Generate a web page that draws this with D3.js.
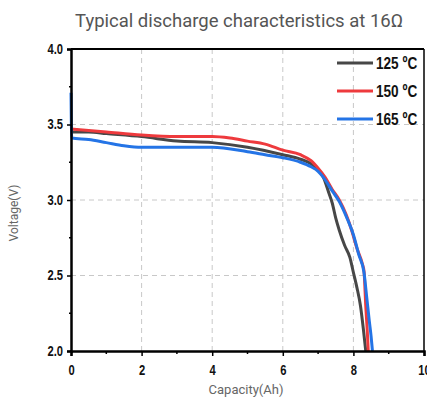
<!DOCTYPE html>
<html>
<head>
<meta charset="utf-8">
<script src="https://cdn.jsdelivr.net/npm/d3@7"></script>
<style>
  body { margin: 0; background: #fff; }
  .tick-lbl { font-family: "Liberation Sans", Arial, sans-serif; font-weight: bold; font-size: 14px; fill: #111; }
</style>
</head>
<body>
<svg id="chart" width="427" height="399"></svg>
<script>
// capacity (Ah) / voltage (V)
var series125 = [[0,3.45],[0.5,3.45],[1,3.44],[2,3.42],[3,3.39],[4,3.38],[5,3.35],[6,3.30],[6.5,3.27],[6.8,3.24],[7.0,3.20],[7.15,3.15],[7.3,3.05],[7.4,2.98],[7.5,2.88],[7.6,2.80],[7.75,2.70],[7.9,2.62],[8.0,2.52],[8.1,2.42],[8.2,2.30],[8.28,2.15],[8.35,2.0]];
var series150 = [[0,3.47],[0.5,3.46],[1,3.45],[2,3.43],[3,3.42],[4,3.42],[4.5,3.41],[5,3.39],[5.5,3.37],[6,3.33],[6.5,3.30],[6.8,3.26],[7.0,3.21],[7.2,3.15],[7.4,3.07],[7.6,3.0],[7.8,2.9],[7.95,2.80],[8.1,2.68],[8.25,2.58],[8.3,2.53],[8.35,2.3],[8.4,2.1],[8.42,2.0]];
var series165 = [[0,3.71],[0.02,3.41],[0.5,3.40],[1,3.38],[1.5,3.36],[2,3.35],[3,3.35],[4,3.35],[5,3.32],[5.5,3.30],[6,3.28],[6.5,3.25],[6.8,3.22],[7.0,3.19],[7.15,3.15],[7.4,3.06],[7.6,2.99],[7.8,2.89],[8.0,2.77],[8.15,2.64],[8.3,2.52],[8.38,2.35],[8.45,2.2],[8.5,2.1],[8.54,2.0]];

var legendNames = ["125 \u00BAC", "150 \u00BAC", "165 \u00BAC"];
var colors = ["#474747", "#ee3a3d", "#2474e6"];
var xTicks = [0, 2, 4, 6, 8, 10];
var yTicks = [2.0, 2.5, 3.0, 3.5, 4.0];

var svg = d3.select('#chart');
var pLeft = 71, pRight = 424, pTop = 49, pBottom = 351;
var narrow = 0.8; // squeeze for the condensed bold labels

var x = d3.scaleLinear().domain([0, 10]).range([pLeft, pRight]);
var y = d3.scaleLinear().domain([2, 4]).range([pBottom, pTop]);

// grid
svg.append('g').selectAll('line')
  .data([2, 4, 6, 8]).enter().append('line')
  .attr('x1', d => x(d)).attr('x2', d => x(d))
  .attr('y1', pTop).attr('y2', pBottom)
  .attr('stroke', '#c8c8c8').attr('stroke-dasharray', '5,4');
svg.append('g').selectAll('line')
  .data([2.5, 3.0, 3.5]).enter().append('line')
  .attr('x1', pLeft).attr('x2', pRight)
  .attr('y1', d => y(d)).attr('y2', d => y(d))
  .attr('stroke', '#c8c8c8').attr('stroke-dasharray', '5,4');

// curves
var line = d3.line().x(d => x(d[0])).y(d => y(d[1])).curve(d3.curveMonotoneX);
[series125, series150, series165].forEach(function(s, i) {
  svg.append('path').datum(s)
    .attr('d', line)
    .attr('fill', 'none')
    .attr('stroke', colors[i])
    .attr('stroke-width', 3)
    .attr('stroke-linejoin', 'round');
});

// frame
svg.append('line').attr('x1', pLeft).attr('x2', pRight).attr('y1', pTop).attr('y2', pTop)
  .attr('stroke', '#000').attr('stroke-width', 2);
svg.append('line').attr('x1', pRight).attr('x2', pRight).attr('y1', pTop).attr('y2', pBottom)
  .attr('stroke', '#000').attr('stroke-width', 1.5);

// axes
var xAxis = d3.axisBottom(x).tickValues(xTicks).tickSize(5).tickFormat(d3.format('d'));
var gx = svg.append('g').attr('transform', 'translate(0,' + pBottom + ')').call(xAxis);
gx.select('.domain').attr('stroke-width', 2.5);
gx.selectAll('.tick line').attr('stroke-width', 1.5);
gx.selectAll('.tick text').attr('class', 'tick-lbl').attr('dy', '1.15em')
  .attr('transform', 'scale(' + narrow + ',1)');
gx.selectAll('line.minor').data([1, 3, 5, 7, 9]).enter().append('line')
  .attr('class', 'minor')
  .attr('x1', d => x(d)).attr('x2', d => x(d)).attr('y1', 0).attr('y2', 3)
  .attr('stroke', '#000').attr('stroke-width', 1.5);

var yAxis = d3.axisLeft(y).tickValues(yTicks).tickSize(4).tickFormat(d3.format('.1f'));
var gy = svg.append('g').attr('transform', 'translate(' + pLeft + ',0)').call(yAxis);
gy.select('.domain').attr('stroke-width', 2.5);
gy.selectAll('.tick line').attr('stroke-width', 1.5);
gy.selectAll('.tick text').attr('class', 'tick-lbl').attr('x', -8 / narrow)
  .attr('transform', 'scale(' + narrow + ',1)');
gy.selectAll('line.minor').data([2.25, 2.75, 3.25, 3.75]).enter().append('line')
  .attr('class', 'minor')
  .attr('x1', 0).attr('x2', -2).attr('y1', d => y(d)).attr('y2', d => y(d))
  .attr('stroke', '#000').attr('stroke-width', 1.5);

// titles
svg.append('text').attr('x', 239).attr('y', 27).attr('text-anchor', 'middle')
  .attr('font-family', 'Roboto, sans-serif').attr('font-size', 19).attr('fill', '#555')
  .attr('textLength', 328).attr('lengthAdjust', 'spacingAndGlyphs')
  .text('Typical discharge characteristics at 16\u03A9');
svg.append('text').attr('x', 246).attr('y', 394).attr('text-anchor', 'middle')
  .attr('font-family', 'Roboto, sans-serif').attr('font-size', 13).attr('fill', '#666')
  .text('Capacity(Ah)');
svg.append('text').attr('transform', 'translate(18,213) rotate(-90)').attr('text-anchor', 'middle')
  .attr('font-family', 'Roboto, sans-serif').attr('font-size', 12).attr('fill', '#666')
  .text('Voltage(V)');

// legend
var legend = svg.append('g');
legendNames.forEach(function(name, i) {
  var ly = 63 + i * 28;
  legend.append('line').attr('x1', 337).attr('x2', 373).attr('y1', ly).attr('y2', ly)
    .attr('stroke', colors[i]).attr('stroke-width', 3);
  legend.append('text').attr('x', 376 / narrow).attr('y', ly + 6)
    .attr('transform', 'scale(' + narrow + ',1)')
    .attr('font-family', '"Liberation Sans", Arial, sans-serif')
    .attr('font-weight', 'bold').attr('font-size', 17).attr('fill', '#111')
    .text(name);
});
</script>
</body>
</html>
